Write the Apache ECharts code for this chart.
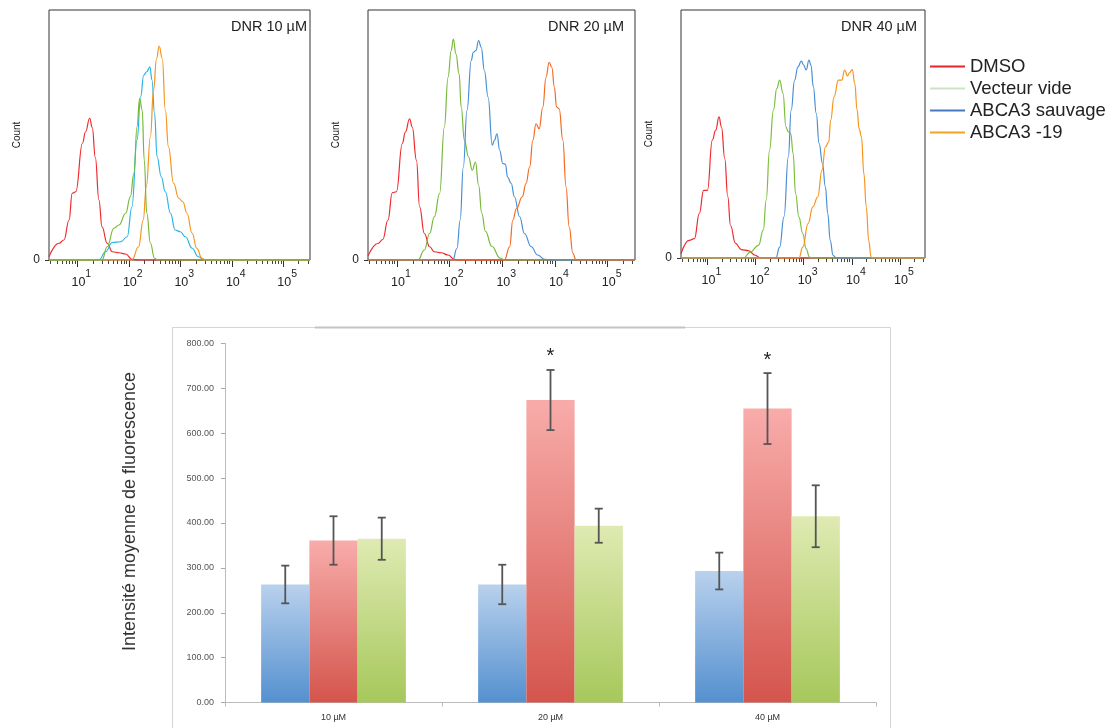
<!DOCTYPE html>
<html><head><meta charset="utf-8">
<script src="https://cdn.jsdelivr.net/npm/echarts@6/dist/echarts.min.js"></script>
<style>html,body{margin:0;padding:0;background:#fff}#c{width:1113px;height:728px}</style>
</head><body><div id="c"></div>
<script>
// ---------- DATA ----------
const histTitles = ['DNR 10 µM', 'DNR 20 µM', 'DNR 40 µM'];
const legendNames = ['DMSO', 'Vecteur vide', 'ABCA3 sauvage', 'ABCA3 -19'];
const decadeTicks = [1, 2, 3, 4, 5];          // 10^1 ... 10^5 (log10 units)

// Histograms: [log10(fluorescence), count (% of panel height)]
const p1_dmso = [[0.45,1.3],[0.645,6.7],[0.74,8],[0.84,16],[0.90,26.7],[0.97,27.3],[1.10,46.7],[1.16,51.3],[1.24,56.7],[1.29,53],[1.35,41],[1.42,24],[1.48,13.3],[1.58,6.7],[1.68,3.3],[1.81,2.9],[1.94,2.4],[2.06,0.3],[2.2,0],[5.52,0]];
const p1_vide = [[0.45,0],[1.48,0],[1.58,5.3],[1.71,12.7],[1.81,14],[1.94,18.7],[2.03,25.3],[2.10,34.7],[2.16,53.3],[2.21,64.7],[2.26,60],[2.30,40],[2.35,18.7],[2.42,6.7],[2.50,0.7],[2.56,0],[5.52,0]];
const p1_sauv = [[0.45,0],[1.42,0],[1.55,3.3],[1.68,7],[1.84,7.3],[1.97,9.3],[2.06,21.3],[2.16,48],[2.23,65.3],[2.29,74],[2.35,75.3],[2.41,77.3],[2.45,72],[2.50,58.7],[2.55,41.3],[2.63,33.3],[2.71,27.3],[2.81,18.7],[2.90,12],[3.0,11.3],[3.10,9.3],[3.23,4.7],[3.35,1.3],[3.45,0.3],[3.5,0],[5.52,0]];
const p1_m19  = [[0.45,0],[2.06,0],[2.19,5.3],[2.28,16],[2.34,29.3],[2.42,49.3],[2.48,68],[2.54,80.7],[2.59,85.6],[2.65,80.7],[2.71,60],[2.77,45.3],[2.87,30.7],[2.97,24.7],[3.05,23.3],[3.13,18.7],[3.23,10.7],[3.32,4.7],[3.42,0.7],[3.48,0],[5.52,0]];

const p2_dmso = [[0.45,1.6],[0.64,6.6],[0.73,8.2],[0.83,16],[0.91,26.9],[0.99,27.3],[1.10,46.5],[1.16,51.2],[1.24,56.5],[1.29,53.2],[1.37,39.9],[1.43,21.3],[1.52,10.6],[1.62,5.3],[1.71,3.3],[1.84,2.9],[1.97,2.0],[2.09,0.3],[2.15,0],[5.52,0]];
const p2_vide = [[0.45,0],[1.40,0],[1.52,4],[1.62,10.6],[1.71,17.3],[1.81,26.6],[1.90,53.2],[1.97,73.1],[2.03,83.8],[2.07,88.4],[2.12,82.4],[2.18,74.5],[2.22,61.2],[2.28,47.9],[2.36,41.2],[2.43,35.9],[2.49,39.2],[2.55,30],[2.61,18.7],[2.68,11.5],[2.80,5.5],[2.96,0.7],[3.05,0],[5.52,0]];
const p2_sauv = [[0.45,0],[2.06,0],[2.14,4.7],[2.20,16],[2.26,37.2],[2.33,59.8],[2.41,79.8],[2.45,83.1],[2.50,83.8],[2.55,87.8],[2.60,85.1],[2.66,75.8],[2.73,65.2],[2.81,45.9],[2.85,47.9],[2.90,50.5],[2.95,43.9],[3.01,38.6],[3.06,38.3],[3.10,33.2],[3.17,30.6],[3.23,25.3],[3.33,17.3],[3.42,10.6],[3.55,5.3],[3.67,2.0],[3.80,0.3],[3.9,0],[5.52,0]];
const p2_m19  = [[0.45,0],[3.04,0],[3.14,5.3],[3.20,16],[3.27,20.6],[3.38,25.3],[3.45,30.6],[3.52,37.2],[3.58,47.9],[3.64,54.5],[3.70,52.5],[3.77,61.2],[3.83,73.1],[3.89,79.1],[3.94,77.1],[3.99,69.1],[4.03,61.2],[4.08,60.5],[4.15,47.9],[4.21,29.3],[4.27,13.3],[4.34,2.7],[4.40,0],[5.52,0]];

const p3_dmso = [[0.45,1.7],[0.62,7.1],[0.73,7.8],[0.83,17.9],[0.92,27.3],[1.0,27.3],[1.10,47.5],[1.17,51.5],[1.24,56.9],[1.29,52.9],[1.36,40],[1.42,25],[1.48,13],[1.58,6],[1.70,3.4],[1.85,3],[1.99,1.1],[2.09,0.1],[2.15,0],[5.52,0]];
const p3_vide = [[0.45,0],[1.75,0],[1.89,2.4],[2.06,5.1],[2.16,11.2],[2.22,23.3],[2.29,43.5],[2.37,59.6],[2.44,68.4],[2.50,71.7],[2.57,66.4],[2.63,52.9],[2.68,50.9],[2.73,50.2],[2.78,42.1],[2.83,26],[2.90,16.6],[2.98,9.8],[3.05,3.8],[3.12,0.4],[3.18,0],[5.52,0]];
const p3_sauv = [[0.45,0],[2.42,0],[2.50,4.4],[2.59,16.6],[2.68,40.8],[2.74,59.6],[2.81,71.7],[2.88,77.1],[2.95,79.4],[3.0,77.8],[3.05,75.8],[3.11,79.8],[3.15,77.8],[3.20,69],[3.26,58.3],[3.32,46.2],[3.39,38.1],[3.45,28.7],[3.50,17.9],[3.55,7.1],[3.61,1.1],[3.67,0],[5.52,0]];
const p3_m19  = [[0.45,0],[2.90,0],[2.98,4.4],[3.09,13.9],[3.19,20.6],[3.29,24.6],[3.38,35.4],[3.45,44.8],[3.52,46.8],[3.56,55.6],[3.63,65],[3.72,71.7],[3.79,71.7],[3.85,75.8],[3.91,73.4],[3.95,74.7],[4.01,76],[4.06,70.4],[4.11,59.6],[4.15,52.2],[4.20,48.9],[4.25,34],[4.30,20.6],[4.35,7.1],[4.40,0.4],[4.45,0],[5.52,0]];

// Bar chart
const barCategories = ['10 µM', '20 µM', '40 µM'];
const blueVals  = [263, 263, 293];
const blueErr   = [42, 44, 41];
const redVals   = [361, 674, 655];
const redErr    = [54, 67, 79];
const greenVals = [365, 394, 415];
const greenErr  = [47, 38, 69];
const redSignif = [0, 1, 1];

// ---------- STYLE / LAYOUT ----------
const FONT = 'Liberation Sans';
const XMIN = 0.45, XMAX = 5.52;
const grids = [
  {left: 49, top: 10, width: 261, height: 250},
  {left: 368, top: 10, width: 267, height: 250},
  {left: 681, top: 10, width: 244, height: 248}
];
const titleRight = [307, 624, 917];
const panels = [
  [{n:'DMSO', d:p1_dmso, c:'#ee2a2e'}, {n:'ABCA3 sauvage', d:p1_sauv, c:'#29b5e8'}, {n:'ABCA3 -19', d:p1_m19, c:'#f7941d'}, {n:'Vecteur vide', d:p1_vide, c:'#76b935'}],
  [{n:'DMSO', d:p2_dmso, c:'#ee2a2e'}, {n:'Vecteur vide', d:p2_vide, c:'#78b83c'}, {n:'ABCA3 sauvage', d:p2_sauv, c:'#4a8fd4'}, {n:'ABCA3 -19', d:p2_m19, c:'#f26a21'}],
  [{n:'DMSO', d:p3_dmso, c:'#ee2a2e'}, {n:'Vecteur vide', d:p3_vide, c:'#7cbf3c'}, {n:'ABCA3 sauvage', d:p3_sauv, c:'#4a8fd4'}, {n:'ABCA3 -19', d:p3_m19, c:'#f7941d'}]
];
const legendColors = ['#e8242b', '#c9e5c3', '#4a78c2', '#f2a325'];

const minorTicks = [];
for (let n = 0; n <= 5; n++) for (let k = 2; k <= 9; k++) {
  const v = n + Math.log10(k);
  if (v >= XMIN && v <= XMAX) minorTicks.push(v);
}

const chart = echarts.init(document.getElementById('c'), null, {renderer: 'canvas'});

const gridOpt = [], xAxes = [], yAxes = [], series = [], titles = [];
grids.forEach((g, p) => {
  gridOpt.push(Object.assign({show: true, borderColor: '#333', borderWidth: 1, backgroundColor: 'transparent'}, g));
  xAxes.push({
    gridIndex: p, type: 'value', min: XMIN, max: XMAX, position: 'bottom',
    axisLine: {show: false}, splitLine: {show: false},
    axisTick: {show: true, length: 7, customValues: decadeTicks, lineStyle: {color: '#333'}},
    axisLabel: {
      customValues: decadeTicks, margin: 9, padding: [0, 0, 0, 8],
      formatter: v => '{b|10}{s|' + v + '}',
      rich: {
        b: {fontSize: 12.5, lineHeight: 20, verticalAlign: 'bottom', color: '#222', fontFamily: FONT},
        s: {fontSize: 10.5, lineHeight: 20, verticalAlign: 'top', color: '#222', fontFamily: FONT}
      }
    }
  });
  xAxes.push({
    gridIndex: p, type: 'value', min: XMIN, max: XMAX, position: 'bottom',
    axisLine: {show: false}, splitLine: {show: false}, axisLabel: {show: false},
    axisTick: {show: true, length: 4, customValues: minorTicks, lineStyle: {color: '#444'}}
  });
  yAxes.push({
    gridIndex: p, type: 'value', min: 0, max: 100,
    axisLine: {show: false}, splitLine: {show: false},
    axisTick: {show: true, length: 4, customValues: [0], lineStyle: {color: '#333'}},
    axisLabel: {customValues: [0], formatter: () => '0', fontSize: 12, color: '#222', margin: 9},
    name: 'Count', nameLocation: 'middle', nameGap: 27,
    nameTextStyle: {fontSize: 10, color: '#222', fontFamily: FONT}
  });
  panels[p].forEach(s => {
    series.push({
      type: 'line', name: s.n, xAxisIndex: 2 * p, yAxisIndex: p, data: s.d,
      showSymbol: false, smooth: 0.45, smoothMonotone: 'x', clip: false,
      lineStyle: {color: s.c, width: 1.2}, itemStyle: {color: s.c},
      emphasis: {disabled: true}, silent: true
    });
  });
  titles.push({
    text: histTitles[p], right: 1113 - titleRight[p], top: 19, padding: 0,
    textStyle: {fontSize: 14.5, fontWeight: 'normal', color: '#222', fontFamily: FONT}
  });
});

// bar chart grid
gridOpt.push({left: 225, top: 343.5, width: 651, height: 359});
xAxes.push({
  gridIndex: 3, type: 'category', data: barCategories,
  axisLine: {lineStyle: {color: '#bbb'}},
  axisTick: {show: true, length: 4, lineStyle: {color: '#bbb'}},
  axisLabel: {fontSize: 9, color: '#333', margin: 11, fontFamily: FONT}
});
yAxes.push({
  gridIndex: 3, type: 'value', min: 0, max: 800, interval: 100,
  axisLine: {show: true, lineStyle: {color: '#bbb'}},
  axisTick: {show: true, length: 4, lineStyle: {color: '#aaa'}},
  splitLine: {show: false},
  axisLabel: {fontSize: 9, color: '#555', margin: 11, fontFamily: FONT, formatter: v => v.toFixed(2)}
});

function grad(top, bottom) {
  return new echarts.graphic.LinearGradient(0, 0, 0, 1, [{offset: 0, color: top}, {offset: 1, color: bottom}]);
}
const barDefs = [
  {vals: blueVals, errs: blueErr, c: grad('#b9d1ed', '#5490cf'), sig: [0, 0, 0]},
  {vals: redVals, errs: redErr, c: grad('#f8acaa', '#d4554d'), sig: redSignif},
  {vals: greenVals, errs: greenErr, c: grad('#dfeab2', '#a6c85b'), sig: [0, 0, 0]}
];
const BAR_GAP = 0.333;
barDefs.forEach((b, i) => {
  series.push({
    type: 'bar', name: 'bar' + i, xAxisIndex: 6, yAxisIndex: 3, data: b.vals,
    barGap: '0%', barCategoryGap: (BAR_GAP * 100) + '%',
    itemStyle: {color: b.c}, silent: true
  });
});
const errData = [];
barDefs.forEach((b, i) => b.vals.forEach((v, j) => errData.push([j, v - b.errs[j], v + b.errs[j], i, b.sig[j]])));
series.push({
  type: 'custom', xAxisIndex: 6, yAxisIndex: 3, data: errData, silent: true, z: 5,
  encode: {x: 0, y: [1, 2]},
  renderItem(params, api) {
    const cat = api.value(0);
    const top = api.coord([cat, api.value(2)]);
    const bot = api.coord([cat, api.value(1)]);
    const band = api.size([1, 0])[0];
    const bw = band * (1 - BAR_GAP) / 3;
    const x = top[0] + (api.value(3) - 1) * bw;
    const cap = 4;
    const st = {stroke: '#555', lineWidth: 1.8};
    const ch = [
      {type: 'line', shape: {x1: x, y1: top[1], x2: x, y2: bot[1]}, style: st},
      {type: 'line', shape: {x1: x - cap, y1: top[1], x2: x + cap, y2: top[1]}, style: st},
      {type: 'line', shape: {x1: x - cap, y1: bot[1], x2: x + cap, y2: bot[1]}, style: st}
    ];
    if (api.value(4)) ch.push({type: 'text', x: x, y: top[1] - 13,
      style: {text: '*', fontSize: 20, fontFamily: FONT, fill: '#222', textAlign: 'center', textVerticalAlign: 'middle'}});
    return {type: 'group', children: ch};
  }
});

chart.setOption({
  animation: false,
  backgroundColor: '#fff',
  textStyle: {fontFamily: FONT},
  title: titles,
  legend: {
    orient: 'vertical', left: 925, top: 52, itemWidth: 35, itemHeight: 2, itemGap: 3,
    icon: 'rect', selectedMode: false,
    textStyle: {fontSize: 18.5, color: '#222', lineHeight: 17, fontFamily: FONT},
    data: legendNames.map((n, i) => ({name: n, itemStyle: {color: legendColors[i]}}))
  },
  graphic: [
    {type: 'rect', z: -1, shape: {x: 172.5, y: 327.5, width: 718, height: 420},
     style: {fill: 'none', stroke: '#d4d4d4', lineWidth: 1}},
    {type: 'line', z: -1, shape: {x1: 315, y1: 327.5, x2: 685, y2: 327.5},
     style: {stroke: '#c4c4c4', lineWidth: 2}},
    {type: 'text', x: 130, y: 511.5, rotation: Math.PI / 2,
     style: {text: 'Intensité moyenne de fluorescence', fontSize: 18, fontFamily: FONT, fill: '#333',
             textAlign: 'center', textVerticalAlign: 'middle'}}
  ],
  grid: gridOpt,
  xAxis: xAxes,
  yAxis: yAxes,
  series: series
});
</script>
</body></html>
